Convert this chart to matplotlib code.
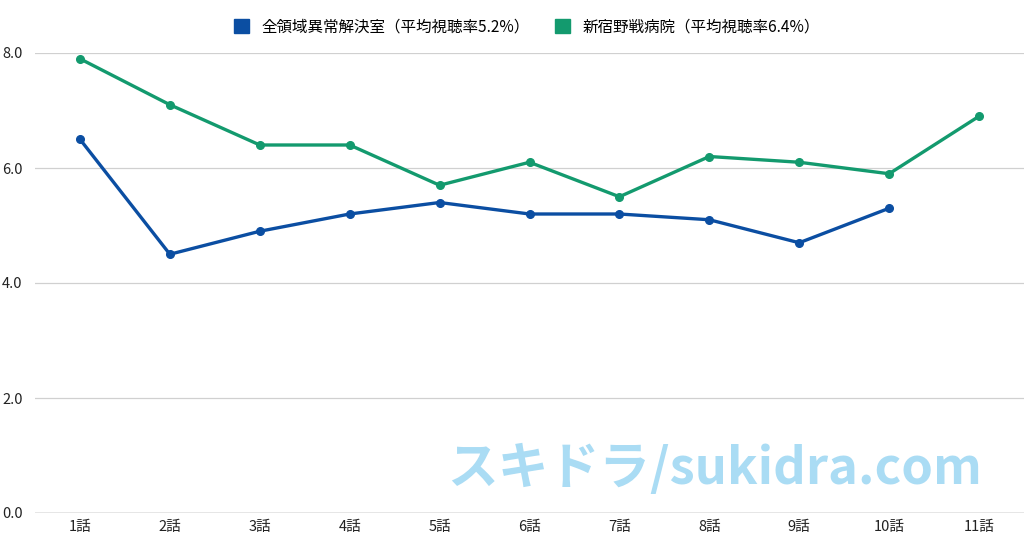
import numpy as np
import matplotlib
matplotlib.use("agg")
import matplotlib.pyplot as plt

plt.rcParams['font.family'] = ['Noto Sans CJK JP', 'DejaVu Sans']

episodes = ["1話", "2話", "3話", "4話", "5話", "6話", "7話", "8話", "9話", "10話", "11話"]
zenryoiki = [6.5, 4.5, 4.9, 5.2, 5.4, 5.2, 5.2, 5.1, 4.7, 5.3]
shinjuku = [7.9, 7.1, 6.4, 6.4, 5.7, 6.1, 5.5, 6.2, 6.1, 5.9, 6.9]
labels = ["全領域異常解決室（平均視聴率5.2%）", "新宿野戦病院（平均視聴率6.4%）"]
colors = ["#0b4ea2", "#139a6e"]

fig = plt.figure(figsize=(10.24, 5.38), dpi=100)
ax = fig.add_axes([35/1024, 25/538, 1 - 35/1024, 460/538])

x = np.arange(1, len(episodes) + 1)
ax.plot(x[:len(zenryoiki)], zenryoiki, color=colors[0], lw=2.4, marker="o", ms=5.5, label=labels[0])
ax.plot(x, shinjuku, color=colors[1], lw=2.4, marker="o", ms=5.5, label=labels[1])

ax.set_xlim(0.5, 11.5)
ax.set_ylim(0, 8)
ax.set_yticks([0, 2, 4, 6, 8])
ax.set_yticklabels(["0.0", "2.0", "4.0", "6.0", "8.0"])
ax.set_xticks(x)
ax.set_xticklabels(episodes)
ax.grid(axis="y", color="#d0d0d0", lw=0.9)
ax.set_axisbelow(True)
for s in ax.spines.values():
    s.set_visible(False)
ax.axhline(0, color="#9a9a9a", lw=1.0, zorder=1)
ax.tick_params(axis="both", length=0, labelsize=10.5, colors="#222222")
ax.tick_params(axis="y", pad=9)
ax.tick_params(axis="x", pad=5)

handles = [plt.Rectangle((0, 0), 1, 1, color=c) for c in colors]
fig.legend(handles, labels, loc="center", bbox_to_anchor=(527/1024, 1 - 27/538),
           ncol=2, frameon=False, fontsize=11.2, handlelength=1.0, handleheight=1.0,
           columnspacing=1.6, handletextpad=0.8)

fig.text(715/1024, 1 - 469/538, "スキドラ/sukidra.com", color="#aadcf4",
         fontsize=36.5, fontweight="bold", ha="center", va="center")

fig.savefig("out.png", dpi=100)
